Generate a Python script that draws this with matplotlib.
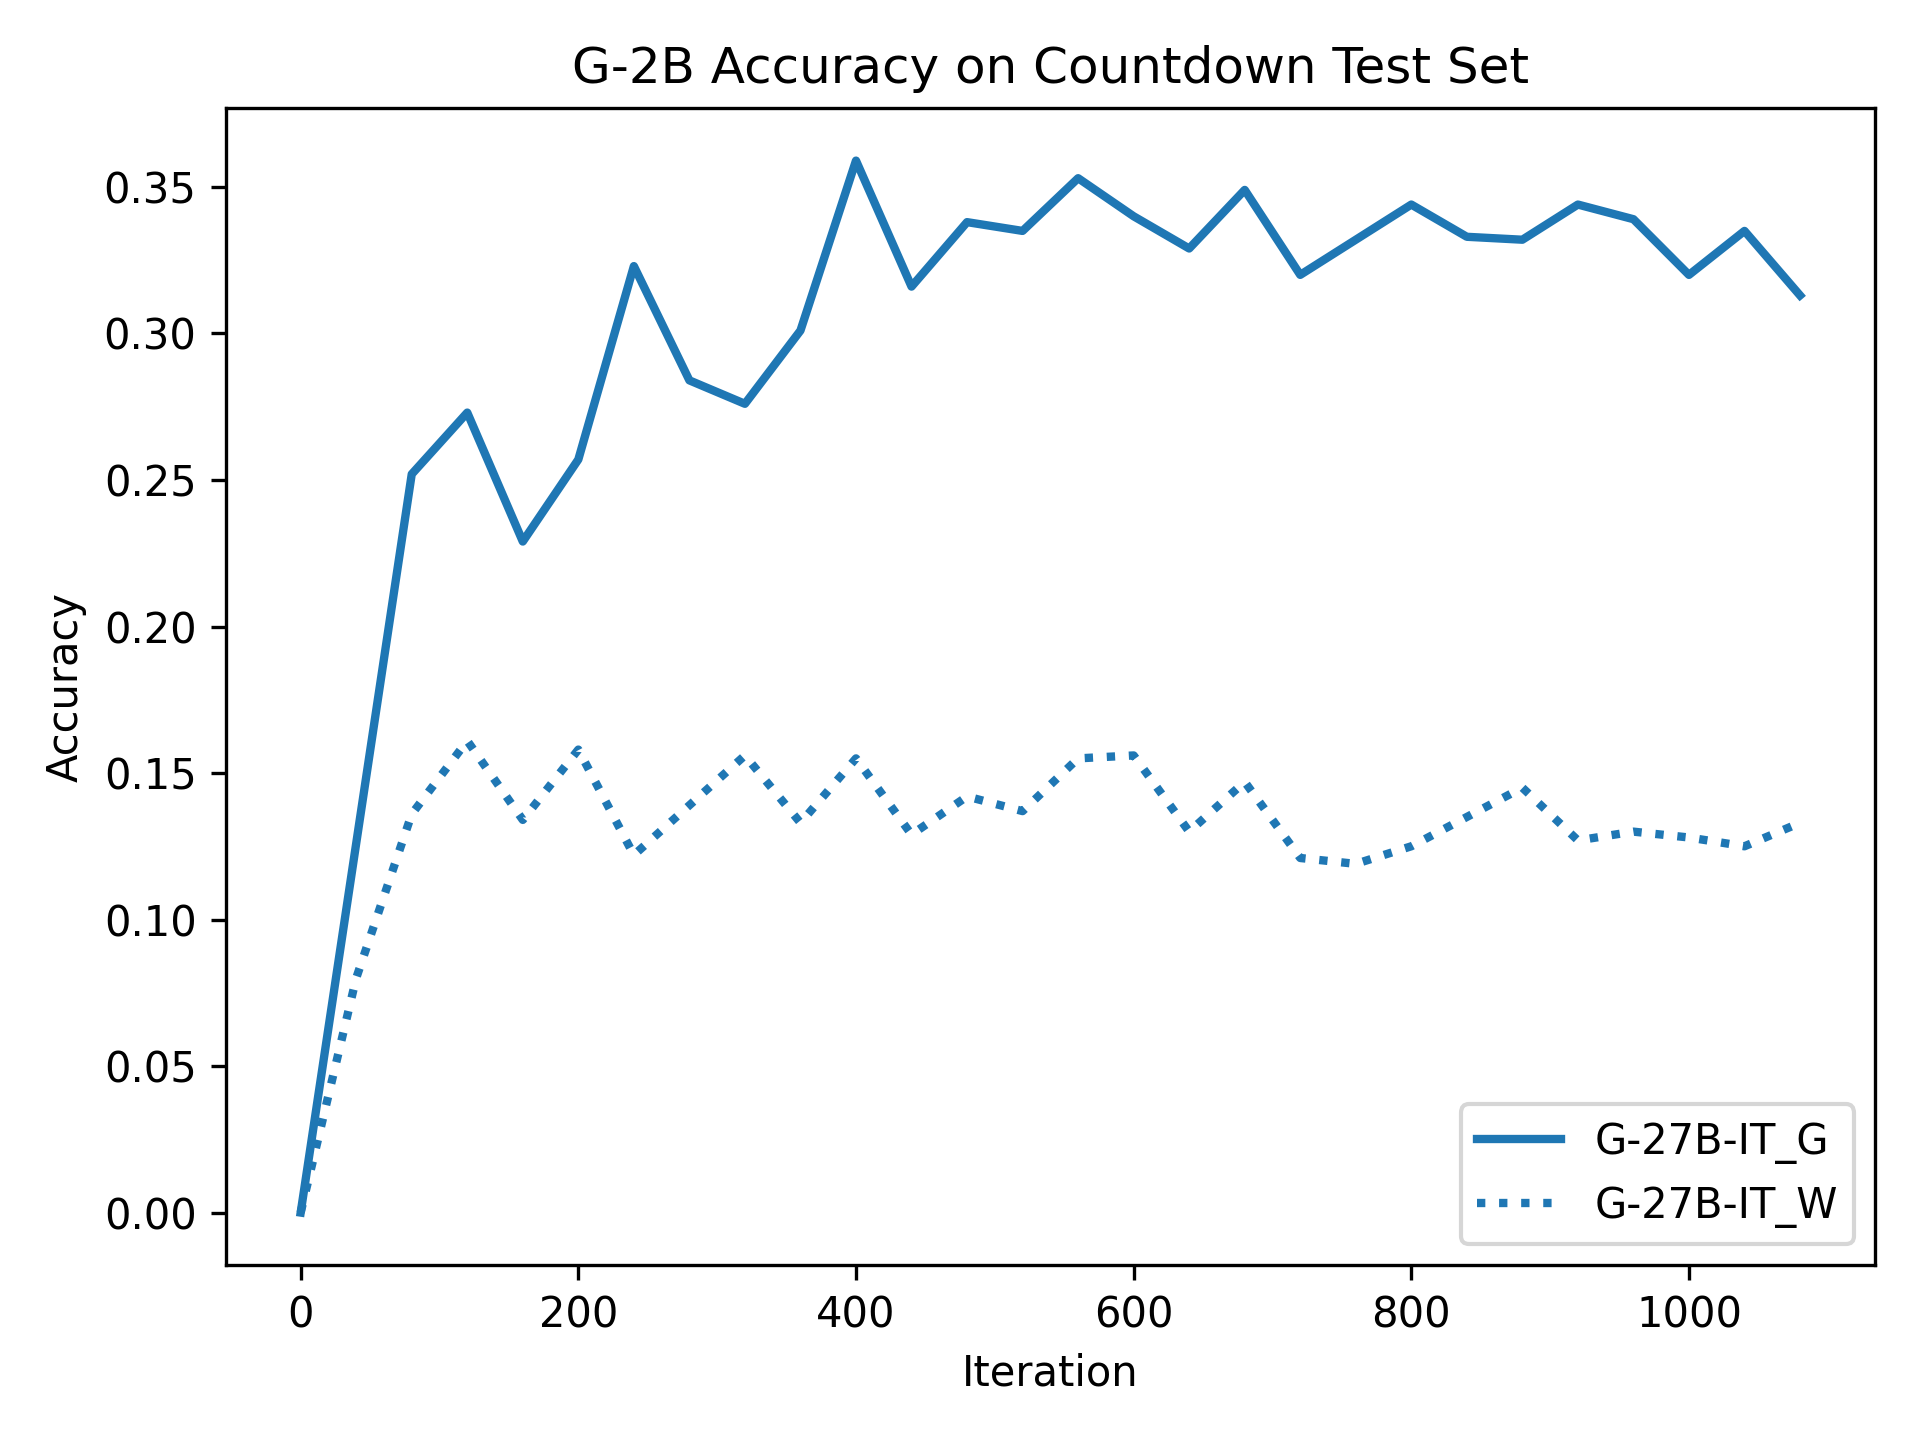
import matplotlib
matplotlib.use("Agg")
import matplotlib.pyplot as plt

iterations = list(range(0, 1081, 40))
acc_g = [0.0, 0.126, 0.252, 0.273, 0.229, 0.257, 0.323, 0.284, 0.276, 0.301, 0.359, 0.316,
         0.338, 0.335, 0.353, 0.340, 0.329, 0.349, 0.320, 0.332, 0.344, 0.333, 0.332,
         0.344, 0.339, 0.320, 0.335, 0.313]
acc_w = [0.0, 0.080, 0.136, 0.161, 0.134, 0.158, 0.122, 0.139, 0.156, 0.133, 0.155, 0.129,
         0.142, 0.137, 0.155, 0.156, 0.130, 0.147, 0.121, 0.119, 0.125, 0.135, 0.145,
         0.127, 0.130, 0.128, 0.125, 0.133]

fig, ax = plt.subplots(figsize=(6.4, 4.8), dpi=300)
ax.plot(iterations, acc_g, color="#1f77b4", lw=2, label="G-27B-IT_G")
ax.plot(iterations, acc_w, color="#1f77b4", lw=2, ls=":", label="G-27B-IT_W")
ax.set_title("G-2B Accuracy on Countdown Test Set")
ax.set_xlabel("Iteration")
ax.set_ylabel("Accuracy")
ax.legend(loc="lower right")
fig.tight_layout()
fig.savefig("out.png", dpi=300)
